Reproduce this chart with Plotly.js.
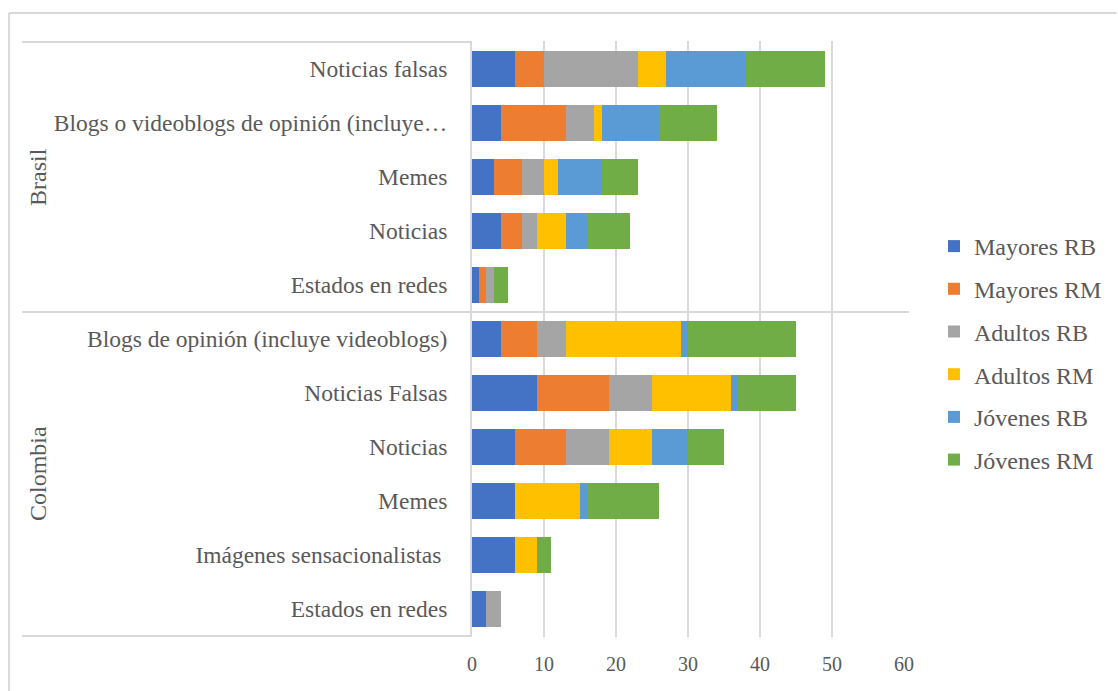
<!DOCTYPE html>
<html>
<head>
<meta charset="utf-8">
<script src="https://cdn.plot.ly/plotly-3.0.1.min.js"></script>
<style>html,body{margin:0;padding:0;background:#fff;}#chart{width:1118px;height:691px;}</style>
</head>
<body>
<div id="chart"></div>
<script>
// ---- Data ----
const groupNames = ['Brasil', 'Colombia'];
const brasilCats = ['Noticias falsas', 'Blogs o videoblogs de opinión (incluye…', 'Memes', 'Noticias', 'Estados en redes'];
const colombiaCats = ['Blogs de opinión (incluye videoblogs)', 'Noticias Falsas', 'Noticias', 'Memes', 'Imágenes sensacionalistas ', 'Estados en redes'];
const seriesNames = ['Mayores RB', 'Mayores RM', 'Adultos RB', 'Adultos RM', 'Jóvenes RB', 'Jóvenes RM'];
// values: Brasil (5 categories) then Colombia (6 categories), in category order above
const mayoresRB = [6, 4, 3, 4, 1, 4, 9, 6, 6, 6, 2];
const mayoresRM = [4, 9, 4, 3, 1, 5, 10, 7, 0, 0, 0];
const adultosRB = [13, 4, 3, 2, 1, 4, 6, 6, 0, 0, 2];
const adultosRM = [4, 1, 2, 4, 0, 16, 11, 6, 9, 3, 0];
const jovenesRB = [11, 8, 6, 3, 0, 1, 1, 5, 1, 0, 0];
const jovenesRM = [11, 8, 5, 6, 2, 15, 8, 5, 10, 2, 0];
const xTicks = [0, 10, 20, 30, 40, 50, 60];

// ---- Build ----
const seriesValues = [mayoresRB, mayoresRM, adultosRB, adultosRM, jovenesRB, jovenesRM];
const colors = ['#4472C4', '#ED7D31', '#A5A5A5', '#FFC000', '#5B9BD5', '#70AD47'];
const ids = brasilCats.map(c => groupNames[0] + '|' + c).concat(colombiaCats.map(c => groupNames[1] + '|' + c));
const labels = brasilCats.concat(colombiaCats);
const FONT = "'Liberation Serif', 'Times New Roman', serif";
const TXT = '#595959';

const traces = seriesNames.map((name, i) => ({
  type: 'bar',
  orientation: 'h',
  name: name,
  x: seriesValues[i],
  y: ids,
  legendgroup: 'g' + i,
  marker: {color: colors[i], line: {width: 0}},
  hoverinfo: 'x+name'
}));

const nB = brasilCats.length, nC = colombiaCats.length;
const lineStyle = {color: '#D9D9D9', width: 2};
const xL = (21 - 472) / 433, xR = (910 - 472) / 433;
const shapes = [
  {type: 'line', xref: 'paper', yref: 'y', x0: xL, x1: 0, y0: -0.5, y1: -0.5, line: lineStyle},
  {type: 'line', xref: 'paper', yref: 'y', x0: xL, x1: xR, y0: nB - 0.5, y1: nB - 0.5, line: lineStyle},
  {type: 'line', xref: 'paper', yref: 'y', x0: xL, x1: 0, y0: nB + nC - 0.5, y1: nB + nC - 0.5, line: lineStyle},
  // outer chart border
  {type: 'line', xref: 'paper', yref: 'paper', x0: (8 - 472) / 433, x1: (1118 - 472) / 433, y0: (637 - 13) / 596, y1: (637 - 13) / 596, line: lineStyle},
  {type: 'line', xref: 'paper', yref: 'paper', x0: (8 - 472) / 433, x1: (8 - 472) / 433, y0: (637 - 13) / 596, y1: (637 - 691) / 596, line: lineStyle}
];
const annotations = [
  {text: groupNames[0], xref: 'paper', yref: 'y', x: (37 - 472) / 433, xanchor: 'center', yanchor: 'middle', y: (nB - 1) / 2, textangle: -90, showarrow: false, font: {family: FONT, size: 24, color: TXT}},
  {text: groupNames[1], xref: 'paper', yref: 'y', x: (37 - 472) / 433, xanchor: 'center', yanchor: 'middle', y: nB + (nC - 1) / 2, textangle: -90, showarrow: false, font: {family: FONT, size: 24, color: TXT}}
];

const layout = {
  width: 1118, height: 691,
  margin: {l: 472, r: 213, t: 41, b: 54},
  paper_bgcolor: '#ffffff', plot_bgcolor: '#ffffff',
  barmode: 'stack',
  bargap: 0.33,
  font: {family: FONT, color: TXT, size: 23},
  xaxis: {
    range: [0, 60], tickvals: xTicks, showgrid: true, gridcolor: '#D9D9D9', gridwidth: 2,
    zeroline: false, showline: false, ticks: '', ticklabelstandoff: 13,
    tickfont: {family: FONT, size: 20, color: TXT},
    fixedrange: true
  },
  yaxis: {
    type: 'category', categoryorder: 'array', categoryarray: ids, autorange: 'reversed',
    tickmode: 'array', tickvals: ids, ticktext: labels,
    showline: true, linecolor: '#D9D9D9', linewidth: 2, showgrid: false, zeroline: false,
    ticks: '', ticklabelstandoff: 18, tickfont: {family: FONT, size: 23.5, color: TXT},
    fixedrange: true
  },
  legend: {
    x: (934 - 472) / 433, xanchor: 'left', y: (637 - 224) / 596, yanchor: 'top',
    traceorder: 'grouped', tracegroupgap: 8.5,
    font: {family: FONT, size: 24, color: TXT}, bgcolor: 'rgba(0,0,0,0)'
  },
  shapes: shapes,
  annotations: annotations,
  showlegend: true
};

Plotly.newPlot('chart', traces, layout, {displayModeBar: false, staticPlot: true});
</script>
</body>
</html>
